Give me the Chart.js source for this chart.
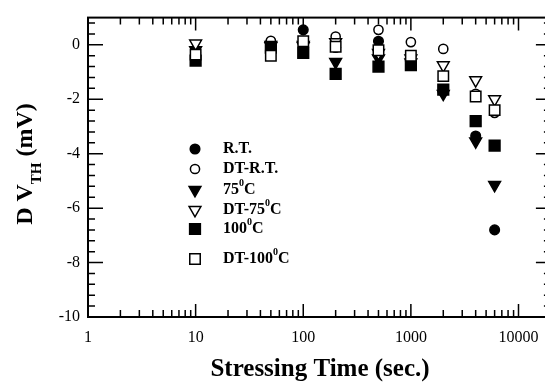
<!DOCTYPE html>
<html>
<head>
<meta charset="utf-8">
<script src="https://cdn.jsdelivr.net/npm/chart.js@4.4.0/dist/chart.umd.min.js"></script>
<style>
  html, body { margin: 0; padding: 0; background: #fff; overflow: hidden; }
  #wrap { width: 560px; height: 383px; }
</style>
</head>
<body>
<div id="wrap"><canvas id="vthChart" width="560" height="383"></canvas></div>
<script>
// stressing times (sec.)
var times = [10, 50, 100, 200, 500, 1000, 2000, 4000, 6000];

// delta Vth (mV) per condition
var rtVals    = [-0.3, 0.1, 0.55, -0.1, 0.13, -0.6, -1.7, -3.35, -6.8];
var dtRtVals  = [-0.3, 0.15, 0.1, 0.3, 0.55, 0.1, -0.15, -1.8, -2.5];
var t75Vals   = [-0.2, -0.05, 0.0, -0.63, -0.5, -0.65, -1.8, -3.55, -5.15];
var dt75Vals  = [0.05, 0.0, -0.05, 0.1, -0.3, -0.5, -0.75, -1.3, -2.0];
var t100Vals  = [-0.58, -0.1, -0.3, -1.07, -0.8, -0.75, -1.65, -2.8, -3.7];
var dt100Vals = [-0.36, -0.4, 0.13, -0.07, -0.2, -0.4, -1.15, -1.9, -2.4];

var seriesLabels = ['R.T.', 'DT-R.T.', '75^0C', 'DT-75^0C', '100^0C', 'DT-100^0C'];
var seriesValues = [rtVals, dtRtVals, t75Vals, dt75Vals, t100Vals, dt100Vals];

var xTickLabels = [1, 10, 100, 1000, 10000];
var yTickLabels = [-10, -8, -6, -4, -2, 0];

var serif = '"Liberation Serif", "Times New Roman", serif';

// marker look: style, rotation, filled, radius
var markers = [
  { style: 'circle',   rot: 0,   fill: true,  r: 4.8 },
  { style: 'circle',   rot: 0,   fill: false, r: 4.6 },
  { style: 'triangle', rot: 180, fill: true,  r: 6.8 },
  { style: 'triangle', rot: 180, fill: false, r: 6.8 },
  { style: 'rect',     rot: 0,   fill: true,  r: 7.6 },
  { style: 'rect',     rot: 0,   fill: false, r: 7.4 }
];

var datasets = seriesValues.map(function (vals, i) {
  var m = markers[i];
  return {
    label: seriesLabels[i],
    data: times.map(function (t, j) { return { x: t, y: vals[j] }; }),
    pointStyle: m.style,
    pointRotation: m.rot,
    pointRadius: m.r,
    pointBackgroundColor: m.fill ? '#000' : '#fff',
    pointBorderColor: '#000',
    pointBorderWidth: 1.5,
    showLine: false,
    order: seriesValues.length - i
  };
});

function drawMarker(ctx, m, x, y) {
  ctx.beginPath();
  if (m.style === 'circle') {
    ctx.arc(x, y, m.r, 0, Math.PI * 2);
  } else if (m.style === 'rect') {
    var s = m.r * Math.SQRT1_2;
    ctx.rect(x - s, y - s, 2 * s, 2 * s);
  } else {
    var r = m.r;
    ctx.moveTo(x, y + r);
    ctx.lineTo(x - r * 0.866, y - r / 2);
    ctx.lineTo(x + r * 0.866, y - r / 2);
    ctx.closePath();
  }
  ctx.fillStyle = m.fill ? '#000' : '#fff';
  ctx.fill();
  ctx.lineWidth = 1.5;
  ctx.strokeStyle = '#000';
  ctx.stroke();
}

// text with "^0" turned into a raised small zero
function drawSupText(ctx, str, x, y, size) {
  var parts = str.split('^');
  ctx.textBaseline = 'middle';
  ctx.textAlign = 'left';
  ctx.font = 'bold ' + size + 'px ' + serif;
  ctx.fillText(parts[0], x, y);
  x += ctx.measureText(parts[0]).width;
  if (parts.length > 1) {
    var sup = parts[1].charAt(0), rest = parts[1].slice(1);
    ctx.font = 'bold ' + Math.round(size * 0.65) + 'px ' + serif;
    ctx.fillText(sup, x, y - size * 0.38);
    x += ctx.measureText(sup).width;
    ctx.font = 'bold ' + size + 'px ' + serif;
    ctx.fillText(rest, x, y);
  }
}

var framePlugin = {
  id: 'frame',
  afterDraw: function (chart) {
    var ctx = chart.ctx, a = chart.chartArea;
    var xs = chart.scales.x, ys = chart.scales.y;
    ctx.save();
    ctx.strokeStyle = '#000';

    // ticks, inward on all four sides
    ctx.lineWidth = 1.5;
    ctx.beginPath();
    for (var d = 0; d <= 4; d++) {
      for (var m = 1; m <= 9; m++) {
        var v = m * Math.pow(10, d);
        if (v > 20000) break;
        var px = xs.getPixelForValue(v);
        var len = m === 1 ? 13 : 7;
        ctx.moveTo(px, a.bottom); ctx.lineTo(px, a.bottom - len);
        ctx.moveTo(px, a.top); ctx.lineTo(px, a.top + len);
      }
    }
    for (var k = 0; k <= 27; k++) {
      var py = ys.getPixelForValue(-10 + 0.4 * k);
      var ylen = k % 5 === 0 ? 15 : 7;
      ctx.moveTo(a.left, py); ctx.lineTo(a.left + ylen, py);
      ctx.moveTo(a.right, py); ctx.lineTo(a.right - ylen, py);
    }
    ctx.stroke();

    ctx.lineWidth = 2;
    ctx.strokeRect(a.left, a.top, a.right - a.left, a.bottom - a.top);

    // legend
    var rows = [149, 169, 190, 210, 229, 259];
    ctx.fillStyle = '#000';
    for (var i = 0; i < seriesLabels.length; i++) {
      drawMarker(ctx, markers[i], 195, rows[i]);
      ctx.fillStyle = '#000';
      drawSupText(ctx, seriesLabels[i], 223, rows[i], 16);
    }

    // x title
    ctx.font = 'bold 25px ' + serif;
    ctx.textAlign = 'center';
    ctx.textBaseline = 'alphabetic';
    ctx.fillText('Stressing Time (sec.)', 320, 376);

    // y title, rotated, with subscript TH
    ctx.translate(32, 164);
    ctx.rotate(-Math.PI / 2);
    var big = 'bold 24px ' + serif, small = 'bold 15px ' + serif;
    var parts = [['D V', big, 0], ['TH', small, 9], [' (mV)', big, 0]];
    var total = 0;
    parts.forEach(function (p) { ctx.font = p[1]; total += ctx.measureText(p[0]).width; });
    var tx = -total / 2;
    ctx.textAlign = 'left';
    parts.forEach(function (p) {
      ctx.font = p[1];
      ctx.fillText(p[0], tx, p[2]);
      tx += ctx.measureText(p[0]).width;
    });
    ctx.restore();
  }
};

var vthChart = document.getElementById('vthChart');

new Chart(vthChart, {
  type: 'scatter',
  data: { datasets: datasets },
  options: {
    responsive: false,
    animation: false,
    devicePixelRatio: 1,
    layout: { padding: { top: 13, right: 7, left: 0, bottom: 0 } },
    plugins: {
      legend: { display: false },
      tooltip: { enabled: false }
    },
    scales: {
      x: {
        type: 'logarithmic',
        min: 1,
        max: 20000,
        grid: { display: false, drawTicks: false },
        border: { display: false },
        afterBuildTicks: function (s) {
          s.ticks = xTickLabels.map(function (v) { return { value: v }; });
        },
        afterFit: function (s) { s.height = 66; },
        ticks: {
          autoSkip: false,
          maxRotation: 0,
          padding: 11,
          color: '#000',
          font: { family: serif, size: 16 },
          callback: function (v) { return String(v); }
        }
      },
      y: {
        min: -10,
        max: 1,
        grid: { display: false, drawTicks: false },
        border: { display: false },
        afterBuildTicks: function (s) {
          s.ticks = yTickLabels.map(function (v) { return { value: v }; });
        },
        afterFit: function (s) { s.width = 88; },
        ticks: {
          padding: 8,
          color: '#000',
          font: { family: serif, size: 16 }
        }
      }
    }
  },
  plugins: [framePlugin]
});
</script>
</body>
</html>
